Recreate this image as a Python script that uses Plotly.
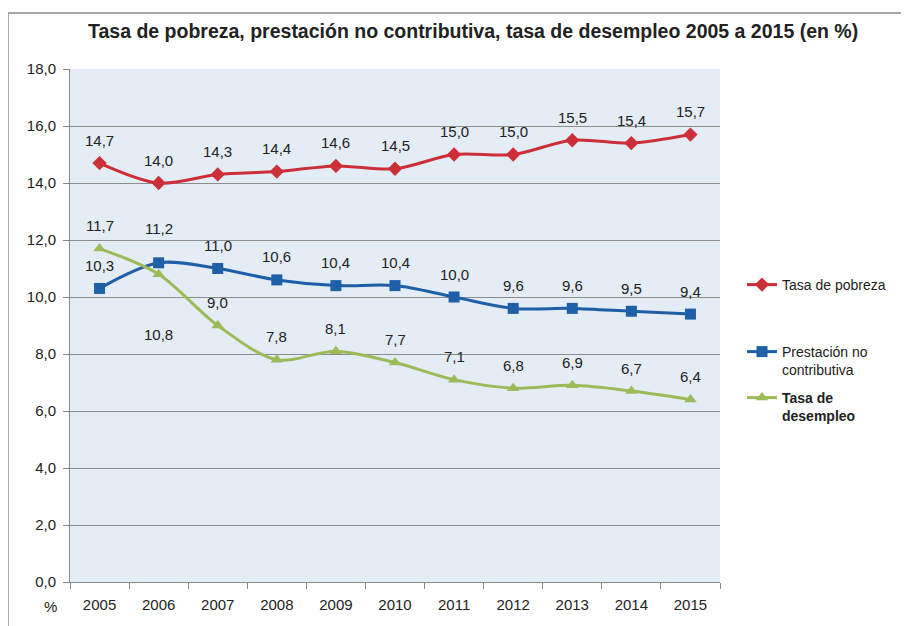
import plotly.graph_objects as go

years = ["2005", "2006", "2007", "2008", "2009", "2010", "2011", "2012", "2013", "2014", "2015"]
pobreza = [14.7, 14.0, 14.3, 14.4, 14.6, 14.5, 15.0, 15.0, 15.5, 15.4, 15.7]
prestacion = [10.3, 11.2, 11.0, 10.6, 10.4, 10.4, 10.0, 9.6, 9.6, 9.5, 9.4]
desempleo = [11.7, 10.8, 9.0, 7.8, 8.1, 7.7, 7.1, 6.8, 6.9, 6.7, 6.4]

names = ["Tasa de pobreza", "Prestación no<br>contributiva", "<b>Tasa de<br>desempleo</b>"]
colors = ["#cc2f38", "#1f5fa8", "#9bbb59"]
symbols = ["diamond", "square", "triangle-up"]
msizes = [11, 11, 11]

OFF = 8  # page body margin
W, H = 909 - OFF, 626 - OFF
L, T = 70 - OFF, 69 - OFF
R = W - (720 - OFF)
B = H - (582 - OFF)
pw, ph = W - L - R, H - T - B

def px(x):
    return (x - OFF - L) / pw

def py(y):
    return (H - B - (y - OFF)) / ph

FONT = "Liberation Sans, Arial"
fig = go.Figure()
series = [pobreza, prestacion, desempleo]
legend_ids = ["legend", "legend2", "legend3"]
for i, vals in enumerate(series):
    fig.add_trace(go.Scatter(
        x=years, y=vals, name=names[i], mode="lines+markers",
        line=dict(color=colors[i], width=3, shape="spline", smoothing=0.9),
        marker=dict(symbol=symbols[i], size=msizes[i], color=colors[i]),
        legend=legend_ids[i],
    ))

# label offsets (pixels); default above
shift_override = {(1, 1): 34, (2, 1): -60}
annotations = []
for i, vals in enumerate(series):
    for j, v in enumerate(vals):
        s = shift_override.get((i, j), 23)
        annotations.append(dict(
            x=j, y=v, xref="x", yref="y", text=f"{v:.1f}".replace(".", ","), showarrow=False,
            yshift=s, font=dict(family=FONT, size=15, color="#222"),
        ))

annotations.append(dict(
    x=px(473), y=py(31), xref="paper", yref="paper", showarrow=False,
    xanchor="center", yanchor="middle",
    text="<b>Tasa de pobreza, prestación no contributiva, tasa de desempleo 2005 a 2015 (en %)</b>",
    font=dict(family=FONT, size=19.5, color="#222"),
))
annotations.append(dict(
    x=px(50), y=py(606), xref="paper", yref="paper", showarrow=False, text="%",
    xanchor="center", yanchor="middle",
    font=dict(family=FONT, size=15, color="#222"),
))

shapes = [
    dict(type="line", xref="paper", yref="paper", x0=px(8), x1=px(906), y0=py(13), y1=py(13),
         line=dict(color="#8a8a8a", width=1.5)),
    dict(type="line", xref="paper", yref="paper", x0=px(8), x1=px(8), y0=py(13), y1=py(626),
         line=dict(color="#8a8a8a", width=1.5)),
]

leg_font = dict(family=FONT, size=14, color="#222")
def leg(ypix):
    return dict(x=px(742), y=py(ypix), xanchor="left", yanchor="top", bgcolor="rgba(0,0,0,0)",
                font=leg_font, valign="top", itemwidth=30)

fig.update_layout(
    width=W, height=H,
    margin=dict(l=L, r=R, t=T, b=B),
    paper_bgcolor="white", plot_bgcolor="#e4ecf6",
    separators=",.",
    showlegend=True,
    legend=leg(269), legend2=leg(336), legend3=leg(382),
    annotations=annotations, shapes=shapes,
    font=dict(family=FONT, size=15, color="#222"),
)
fig.update_xaxes(
    type="category", tickson="boundaries", ticks="outside", ticklen=6, tickcolor="#888",
    showgrid=False, showline=True, linecolor="#888", linewidth=1,
    tickfont=dict(size=15, color="#222"), range=[-0.5, 10.5], ticklabelstandoff=9,
)
fig.update_yaxes(
    range=[0, 18], dtick=2, tickformat=".1f", ticks="outside", ticklen=6, tickcolor="#888",
    showgrid=True, gridcolor="#8c8c8c", gridwidth=1, showline=True, linecolor="#888",
    zeroline=False, tickfont=dict(size=15, color="#222"), ticklabelstandoff=4,
)

fig.write_html("out.html")
